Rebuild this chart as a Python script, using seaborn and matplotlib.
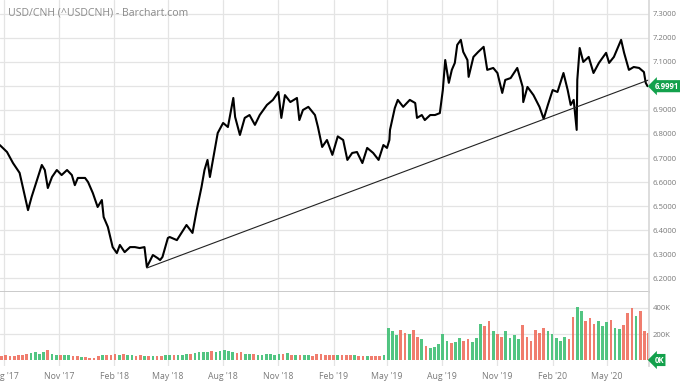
import numpy as np
import pandas as pd
import matplotlib
matplotlib.use("Agg")
import matplotlib.pyplot as plt
import matplotlib.dates as mdates
import seaborn as sns

# price path (close)
price_dates = [
    "2017-07-25", "2017-08-06", "2017-08-16", "2017-08-27", "2017-09-05", "2017-09-10", "2017-09-16",
    "2017-09-25", "2017-10-03", "2017-10-08", "2017-10-13", "2017-10-20", "2017-10-28", "2017-11-05",
    "2017-11-14", "2017-11-22", "2017-11-27", "2017-12-02", "2017-12-14", "2017-12-19", "2017-12-27",
    "2018-01-04", "2018-01-11", "2018-01-14", "2018-01-21", "2018-01-29", "2018-02-05", "2018-02-10",
    "2018-02-18", "2018-02-27", "2018-03-07", "2018-03-15", "2018-03-23", "2018-03-27", "2018-04-06",
    "2018-04-14", "2018-04-18", "2018-04-22", "2018-05-01", "2018-05-04", "2018-05-16", "2018-06-01",
    "2018-06-11", "2018-06-18", "2018-06-26", "2018-07-01", "2018-07-06", "2018-07-10", "2018-07-18",
    "2018-07-23", "2018-08-01", "2018-08-09", "2018-08-18", "2018-08-21", "2018-08-29", "2018-09-06",
    "2018-09-14", "2018-09-23", "2018-10-01", "2018-10-13", "2018-10-23", "2018-11-01", "2018-11-06",
    "2018-11-12", "2018-11-21", "2018-12-02", "2018-12-06", "2018-12-12", "2018-12-21", "2019-01-01",
    "2019-01-06", "2019-01-13", "2019-01-21", "2019-01-30", "2019-02-08", "2019-02-17", "2019-02-24",
    "2019-03-04", "2019-03-12", "2019-03-21", "2019-03-29", "2019-04-08", "2019-04-17", "2019-04-25",
    "2019-05-01", "2019-05-05", "2019-05-06", "2019-05-14", "2019-05-19", "2019-05-28", "2019-06-08",
    "2019-06-17", "2019-06-20", "2019-06-28", "2019-07-03", "2019-07-12", "2019-07-20", "2019-07-28",
    "2019-08-02", "2019-08-06", "2019-08-12", "2019-08-17", "2019-08-22", "2019-08-26", "2019-09-01",
    "2019-09-05", "2019-09-12", "2019-09-14", "2019-09-22", "2019-09-30", "2019-10-09", "2019-10-15",
    "2019-10-25", "2019-11-01", "2019-11-09", "2019-11-14", "2019-11-23", "2019-12-04", "2019-12-13",
    "2019-12-14", "2019-12-21", "2019-12-31", "2020-01-10", "2020-01-17", "2020-01-24", "2020-02-01",
    "2020-02-09", "2020-02-19", "2020-02-26", "2020-03-02", "2020-03-07", "2020-03-12", "2020-03-13",
    "2020-03-17", "2020-03-23", "2020-04-01", "2020-04-09", "2020-04-18", "2020-04-30", "2020-05-05",
    "2020-05-13", "2020-05-25", "2020-05-30", "2020-06-07", "2020-06-15", "2020-06-24", "2020-07-02",
    "2020-07-05", "2020-07-08",
]
price_close = [
    6.754, 6.725, 6.679, 6.638, 6.538, 6.483, 6.538,
    6.608, 6.671, 6.650, 6.575, 6.621, 6.650, 6.629,
    6.650, 6.629, 6.587, 6.617, 6.617, 6.600, 6.554,
    6.496, 6.525, 6.454, 6.413, 6.329, 6.304, 6.338,
    6.308, 6.329, 6.329, 6.325, 6.329, 6.246, 6.296,
    6.283, 6.275, 6.288, 6.367, 6.371, 6.358, 6.421,
    6.388, 6.483, 6.579, 6.650, 6.692, 6.621, 6.733,
    6.804, 6.846, 6.829, 6.950, 6.871, 6.796, 6.867,
    6.879, 6.838, 6.879, 6.921, 6.942, 6.975, 6.867,
    6.962, 6.933, 6.950, 6.858, 6.900, 6.913, 6.879,
    6.829, 6.746, 6.775, 6.713, 6.790, 6.775, 6.692,
    6.721, 6.725, 6.679, 6.742, 6.721, 6.692, 6.754,
    6.742, 6.775, 6.817, 6.908, 6.942, 6.913, 6.942,
    6.929, 6.867, 6.879, 6.858, 6.879, 6.879, 6.887,
    6.983, 7.108, 7.013, 7.067, 7.096, 7.171, 7.192,
    7.142, 7.108, 7.038, 7.121, 7.142, 7.163, 7.067,
    7.075, 7.054, 6.971, 7.025, 7.033, 7.075, 6.996,
    6.933, 6.996, 6.962, 6.913, 6.863, 6.921, 6.983,
    6.975, 7.054, 6.983, 6.921, 6.942, 6.817, 7.025,
    7.158, 7.100, 7.121, 7.054, 7.096, 7.138, 7.096,
    7.121, 7.192, 7.138, 7.067, 7.079, 7.075, 7.058,
    7.013, 6.9991,
]
last_price = 6.9991

# trend line drawn on the chart
trend_dates = ["2018-03-27", "2020-07-10"]
trend_values = [6.242, 7.025]

# weekly volume, thousands
vol_start = "2017-07-28"
volume_k = [
    30, 35, 28, 32, 38, 40, 45, 55, 60, 50, 65, 75, 45, 40, 38, 35, 40, 30, 28, 25, 22, 18, 15,
    30, 38, 42, 35, 45, 40, 48, 38, 35, 32, 36, 30, 34, 28, 32, 30, 35, 38, 42, 36, 40,
    45, 50, 55, 58, 60, 62, 70, 65, 72, 75, 68, 60, 55, 58, 50, 45, 48, 42, 40, 45, 50, 42,
    48, 45, 52, 40, 38, 42, 38, 35, 30,
    45, 48, 40, 42, 38, 35, 40, 36, 38, 35, 32, 30, 34, 30, 28, 32, 40,
    250, 220, 190, 230, 210, 200, 230, 180, 160, 110, 90, 100, 120, 200, 150, 130, 140, 170,
    150, 160, 140, 170, 280, 260, 300, 220, 200, 180, 220, 170, 190, 160, 270, 180, 150,
    230, 210, 250, 220, 200, 170, 150, 180, 160, 330, 410, 380, 300, 320, 280, 300, 260,
    290, 310, 250, 240, 270, 360, 400, 340, 380, 220, 210,
]

tick_months = ["2017-08-01", "2017-11-01", "2018-02-01", "2018-05-01", "2018-08-01", "2018-11-01",
               "2019-02-01", "2019-05-01", "2019-08-01", "2019-11-01", "2020-02-01", "2020-05-01"]
price_ticks = [6.2, 6.3, 6.4, 6.5, 6.6, 6.7, 6.8, 6.9, 7.0, 7.1, 7.2, 7.3]
vol_ticks = [200, 400]

sns.set_theme(style="white")
plt.rcParams["font.family"] = ["Open Sans", "DejaVu Sans"]

GRID = "#e4e4e4"
TXT = "#7a7a7a"
GREEN = "#3fbf74"
RED = "#ef6f5e"
BADGE = "#13a14c"
FS = 5.6

price = pd.DataFrame({"date": pd.to_datetime(price_dates), "close": price_close})
vol = pd.DataFrame({"date": pd.date_range(vol_start, periods=len(volume_k), freq="7D"),
                    "volume": volume_k})
# bar colour from the direction of price over that week
pnum = mdates.date2num(price["date"])
vnum = mdates.date2num(vol["date"])
p_at = np.interp(vnum, pnum, price["close"])
p_prev = np.interp(vnum - 7, pnum, price["close"])
vol["color"] = np.where(p_at >= p_prev, GREEN, RED)

x0, x1 = pd.Timestamp("2017-07-25 08:00"), pd.Timestamp("2020-07-10")
ticks = pd.to_datetime(tick_months)

fig = plt.figure(figsize=(6.8, 3.83), dpi=100)
ax = fig.add_axes([0.0, 0.2376, 0.954, 0.7624])
axv = fig.add_axes([0.0, 0.0444, 0.954, 0.1932])

# price panel
for t in ticks:
    ax.axvline(t, color=GRID, lw=0.9, zorder=0)
for p in price_ticks:
    ax.axhline(p, color=GRID, lw=0.9, zorder=0)
sns.lineplot(data=price, x="date", y="close", color="black", lw=1.5, ax=ax)
sns.lineplot(x=pd.to_datetime(trend_dates), y=trend_values, color="#222222", lw=0.8, ax=ax)
ax.set_xlim(x0, x1)
ax.set_ylim(6.142, 7.358)
ax.set_xticks(ticks)
ax.set_xticklabels([])
ax.set_xlabel("")
ax.set_ylabel("")
ax.yaxis.tick_right()
ax.set_yticks(price_ticks)
# the last-price badge covers the 7.0000 label
ax.set_yticklabels(["" if abs(p - last_price) < 0.05 else f"{p:.4f}" for p in price_ticks],
                   fontsize=FS, color=TXT)
ax.tick_params(length=0, pad=3)
for s in ["left", "top"]:
    ax.spines[s].set_visible(False)
ax.spines["right"].set_color("#d8d8d8")
ax.spines["bottom"].set_color("#c4c4c4")
ax.text(0.012, 0.955, "USD/CNH (^USDCNH) - Barchart.com", transform=ax.transAxes,
        fontsize=7.6, color="#8a8a8a", va="center", ha="left")
ax.annotate(f"{last_price:.4f}", xy=(1.0, last_price), xycoords=("axes fraction", "data"),
            xytext=(4, 0), textcoords="offset points", va="center", ha="left",
            fontsize=FS, color="white", fontweight="bold",
            bbox=dict(boxstyle="larrow,pad=0.2", fc=BADGE, ec="none"))

# volume panel
for t in ticks:
    axv.axvline(t, color=GRID, lw=0.9, zorder=0)
for v in vol_ticks:
    axv.axhline(v, color=GRID, lw=0.9, zorder=0)
axv.bar(vol["date"], vol["volume"], width=4.5, color=vol["color"], alpha=0.9, lw=0)
axv.set_xlim(x0, x1)
axv.set_ylim(-46, 523)
axv.set_xticks(ticks)
axv.xaxis.set_major_formatter(mdates.DateFormatter("%b '%y"))
for lab in axv.get_xticklabels():
    lab.set_fontsize(6.3)
    lab.set_color(TXT)
axv.yaxis.tick_right()
axv.set_yticks(vol_ticks)
axv.set_yticklabels([f"{v}K" for v in vol_ticks], fontsize=FS, color=TXT)
axv.tick_params(length=0, pad=3)
axv.tick_params(axis="x", pad=4)
for s in ["left", "top", "bottom"]:
    axv.spines[s].set_visible(False)
axv.spines["right"].set_color("#d8d8d8")
axv.annotate("0K", xy=(1.0, 0), xycoords=("axes fraction", "data"),
             xytext=(4, 0), textcoords="offset points", va="center", ha="left",
             fontsize=FS, color="white", fontweight="bold",
             bbox=dict(boxstyle="larrow,pad=0.2", fc=BADGE, ec="none"))

fig.savefig("out.png", dpi=100, facecolor="white")
